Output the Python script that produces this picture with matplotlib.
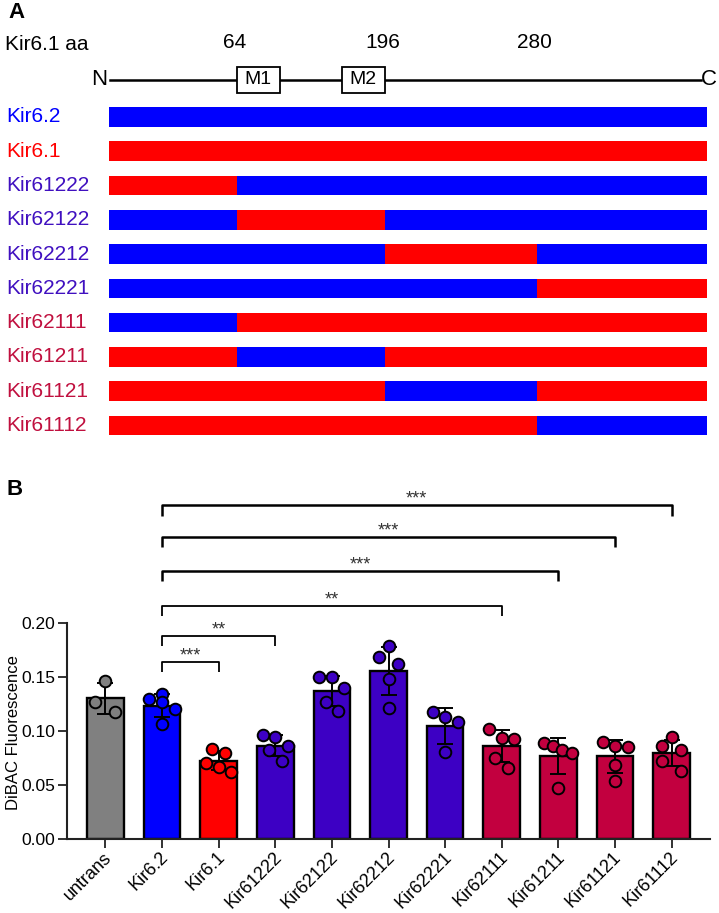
import numpy as np
import matplotlib
matplotlib.use("Agg")
import matplotlib.pyplot as plt
from matplotlib.patches import Rectangle
from matplotlib.transforms import ScaledTranslation

plt.rcParams['font.family'] = ['Liberation Sans', 'DejaVu Sans']

# ---------------- panel A data ----------------
rows = ["Kir6.2", "Kir6.1", "Kir61222", "Kir62122", "Kir62212",
        "Kir62221", "Kir62111", "Kir61211", "Kir61121", "Kir61112"]
row_colors = ["#0000FF", "#FF0000", "#4010C0", "#4010C0", "#4010C0",
              "#4010C0", "#C0103F", "#C0103F", "#C0103F", "#C0103F"]
# segment borders on the schematic (fraction of the full length)
seg_edges = [0.0, 0.214, 0.4615, 0.7157, 1.0]
aa_marks = ["64", "196", "280"]
m1_box = [0.214, 0.2855]
m2_box = [0.389, 0.4615]
src_color = {"1": "#FF0000", "2": "#0000FF"}

# ---------------- panel B data ----------------
groups = ["untrans", "Kir6.2", "Kir6.1", "Kir61222", "Kir62122", "Kir62212",
          "Kir62221", "Kir62111", "Kir61211", "Kir61121", "Kir61112"]
bar_colors = ["#808080", "#0000FF", "#FF0000", "#3D00C4", "#3D00C4", "#3D00C4",
              "#3D00C4", "#C2003F", "#C2003F", "#C2003F", "#C2003F"]
points = [
    [0.146, 0.127, 0.118],
    [0.130, 0.134, 0.127, 0.120, 0.1065],
    [0.0833, 0.0796, 0.0704, 0.0667, 0.062],
    [0.0963, 0.0944, 0.0824, 0.0861, 0.0722],
    [0.150, 0.150, 0.140, 0.127, 0.1187],
    [0.1787, 0.1685, 0.162, 0.148, 0.121],
    [0.1176, 0.113, 0.1083, 0.0806],
    [0.1019, 0.0935, 0.0926, 0.075, 0.0657],
    [0.0889, 0.086, 0.0824, 0.0796, 0.047],
    [0.0898, 0.086, 0.0852, 0.0685, 0.0537],
    [0.0944, 0.086, 0.0824, 0.0722, 0.063],
]
jitter = [
    [0.0, -0.18, 0.16],
    [-0.23, 0.0, 0.0, 0.23, 0.0],
    [-0.11, 0.11, -0.23, 0.0, 0.21],
    [-0.21, 0.0, -0.11, 0.23, 0.12],
    [-0.23, 0.0, 0.21, -0.11, 0.11],
    [0.0, -0.16, 0.16, 0.0, 0.0],
    [-0.21, 0.0, 0.23, 0.0],
    [-0.23, 0.0, 0.21, -0.11, 0.11],
    [-0.25, -0.09, 0.07, 0.25, 0.0],
    [-0.21, 0.0, 0.23, 0.0, 0.0],
    [0.0, -0.16, 0.16, -0.16, 0.16],
]
sig_to = [2, 3, 7, 8, 9, 10]
sig_y = [0.164, 0.188, 0.2157, 0.248, 0.2796, 0.309]
sig_txt = ["***", "**", "**", "***", "***", "***"]

fig = plt.figure(figsize=(7.19, 9.13), dpi=100)

# ================= panel A =================
axA = fig.add_axes([109/719, 1-446/913, 598/719, 414.8/913])
axA.set_xlim(0, 1)
axA.set_ylim(9.6, -2.5)
axA.axis("off")

for i, name in enumerate(rows):
    if name == "Kir6.2":
        code = "2222"
    elif name == "Kir6.1":
        code = "1111"
    else:
        code = name[4:]
    for k, c in enumerate(code):
        axA.barh(i, seg_edges[k+1]-seg_edges[k], left=seg_edges[k], height=0.57,
                 color=src_color[c], linewidth=0)
    axA.text(-0.171, i, name, color=row_colors[i], fontsize=15,
             ha="left", va="center", clip_on=False)

# header
line_y = -1.08
axA.plot([0.002, 0.99], [line_y, line_y], color="black", lw=1.8, zorder=1)
for bx, lab in [(m1_box, "M1"), (m2_box, "M2")]:
    axA.add_patch(Rectangle((bx[0], line_y-0.38), bx[1]-bx[0], 0.76,
                            facecolor="white", edgecolor="black", lw=1.3, zorder=2))
    axA.text((bx[0]+bx[1])/2, line_y, lab, fontsize=14, ha="center",
             va="center", zorder=3)
axA.text(-0.003, line_y, "N", fontsize=16, ha="right", va="center", clip_on=False)
axA.text(0.99, line_y, "C", fontsize=16, ha="left", va="center", clip_on=False)
axA.text(-0.174, -2.12, "Kir6.1 aa", fontsize=15, ha="left", va="center",
         clip_on=False)
for k, lab in enumerate(aa_marks):
    axA.text(seg_edges[k+1] - 0.004, -2.18, lab, fontsize=15, ha="center",
             va="center", clip_on=False)

# ================= panel B =================
axB = fig.add_axes([67/719, 1-839/913, 643/719, 356.4/913])
x = np.arange(len(groups))
means = [np.mean(p) for p in points]
sds = [np.std(p, ddof=1) for p in points]

axB.bar(x, means, width=0.65, color=bar_colors, edgecolor="black",
        linewidth=1.7, zorder=2)
axB.errorbar(x, means, yerr=sds, fmt="none", ecolor="black", elinewidth=1.4,
             capsize=5.5, capthick=1.4, zorder=3)
for i in range(len(groups)):
    axB.scatter(x[i] + np.array(jitter[i]), points[i], s=70,
                facecolor=bar_colors[i], edgecolor="black", linewidth=1.4,
                zorder=4)

for j in range(len(sig_to)):
    x1, x2 = x[1], x[sig_to[j]]
    yy = sig_y[j]
    lw = 1.8 if j >= 3 else 1.3
    axB.plot([x1, x1, x2, x2], [yy-0.0095, yy, yy, yy-0.0095], color="black",
             lw=lw, solid_capstyle="butt", clip_on=False)
    axB.text((x1+x2)/2, yy+0.0015, sig_txt[j], fontsize=13, color="#333333",
             ha="center", va="baseline")

axB.set_xlim(-0.68, 10.68)
axB.set_ylim(0, 0.33)
axB.set_yticks([0.0, 0.05, 0.10, 0.15, 0.20])
axB.set_yticklabels(["0.00", "0.05", "0.10", "0.15", "0.20"])
axB.spines["left"].set_bounds(0, 0.20)
axB.spines["top"].set_visible(False)
axB.spines["right"].set_visible(False)
for s in ["left", "bottom"]:
    axB.spines[s].set_linewidth(1.5)
    axB.spines[s].set_color("#222222")
axB.tick_params(axis="both", length=6.5, width=1.3, color="#222222",
                labelsize=12.5)
axB.tick_params(axis="y", pad=2)
axB.tick_params(axis="x", labelsize=13, pad=5)
axB.set_xticks(x)
axB.set_xticklabels(groups, rotation=45, ha="right", va="center",
                    rotation_mode="anchor")
shift = ScaledTranslation(4/100, 0, fig.dpi_scale_trans)
for lbl in axB.get_xticklabels():
    lbl.set_transform(lbl.get_transform() + shift)
axB.set_ylabel("DiBAC Fluorescence", fontsize=12)
axB.yaxis.set_label_coords(-0.071, 0.30)

fig.text(8/719, 1-13/913, "A", fontsize=16, fontweight="bold", ha="left", va="center")
fig.text(6/719, 1-489/913, "B", fontsize=16, fontweight="bold", ha="left", va="center")

fig.savefig("out.png", dpi=100)
